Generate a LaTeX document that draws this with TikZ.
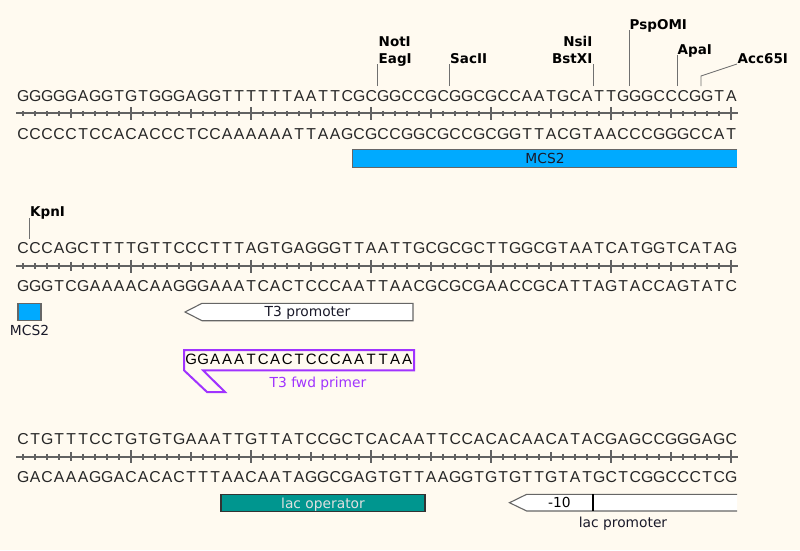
\documentclass[tikz,border=0pt]{standalone}
\usepackage{fontspec}
\newfontfamily\seqfont{Liberation Sans}
\newfontfamily\labfont{DejaVu Sans}
\makeatletter
\newcommand\pitched[1]{\@tfor\sq@c:=#1\do{\makebox[12pt]{\sq@c}}}
\makeatother
\definecolor{bgcol}{HTML}{FFFAF0}
\definecolor{seqgray}{HTML}{262626}
\definecolor{rulegray}{HTML}{626262}
\definecolor{leadgray}{HTML}{707070}
\definecolor{mcsblue}{HTML}{00AAFF}
\definecolor{teal}{HTML}{00968F}
\definecolor{primerpurple}{HTML}{A033FF}
\definecolor{featborder}{HTML}{666666}
\definecolor{labdark}{HTML}{1A1A2A}
\newcommand\rulerline[1]{%
  \draw[rulerstyle] (16,#1) -- (737.5,#1);
  \foreach \i in {1,...,60} {
    \pgfmathsetmacro\h{mod(\i,10)==0 ? 6.5 : (mod(\i,5)==0 ? 4.5 : 2.8)}
    \draw[rulerstyle, line width=1.7pt] ({11+12*\i},{#1-\h}) -- ({11+12*\i},{#1+\h});
  }}
\begin{document}
\begin{tikzpicture}[x=1pt,y=-1pt,
  seq/.style={font=\seqfont\fontsize{15.8}{18}\selectfont, text=seqgray, inner sep=0, anchor=base west},
  enz/.style={font=\labfont\bfseries\fontsize{13.5}{16}\selectfont, text=black, inner sep=0, anchor=base west},
  enzr/.style={enz, anchor=base east},
  lab/.style={font=\labfont\fontsize{13.8}{16}\selectfont, text=labdark, inner sep=0, anchor=base},
  leader/.style={draw=leadgray, line width=0.9pt},
  rulerstyle/.style={draw=rulegray, line width=2.2pt},
  featline/.style={draw=featborder, line width=1.1pt},
  primerline/.style={draw=primerpurple, line width=2pt, line join=miter}]
\fill[bgcol] (0,0) rectangle (800,550);
\useasboundingbox (0,0) rectangle (800,550);

% ---------------- block 1 ----------------
\rulerline{113.3}
\node[seq] (top1) at (17,101) {\pitched{GGGGGAGGTGTGGGAGGTTTTTTAATTCGCGGCCGCGGCGCCAATGCATTGGGCCCGGTA}};
\node[seq] (bot1) at (17,139.3) {\pitched{CCCCCTCCACACCCTCCAAAAAATTAAGCGCCGGCGCCGCGGTTACGTAACCCGGGCCAT}};

\node[enz] (NotI) at (378.5,46) {NotI};
\node[enz] (EagI) at (378.5,63) {EagI};
\coordinate (cNot) at (377,86); \coordinate (tNot) at (377,63.5);
\draw[leader] (cNot) -- (tNot);

\node[enz] (SacII) at (450,63) {SacII};
\coordinate (cSac) at (449,86); \coordinate (tSac) at (449,63.5);
\draw[leader] (cSac) -- (tSac);

\node[enzr] (NsiI) at (592.5,46) {NsiI};
\node[enzr] (BstXI) at (592.5,63) {BstXI};
\coordinate (cNsi) at (593,86); \coordinate (tNsi) at (593,63.5);
\draw[leader] (cNsi) -- (tNsi);

\node[enz] (PspOMI) at (629.5,29) {PspOMI};
\coordinate (cPsp) at (629,86); \coordinate (tPsp) at (629,30);
\draw[leader] (cPsp) -- (tPsp);

\node[enz] (ApaI) at (677.5,54) {ApaI};
\coordinate (cApa) at (677,86); \coordinate (tApa) at (677,55);
\draw[leader] (cApa) -- (tApa);

\node[enz] (Acc65I) at (737.5,63) {Acc65I};
\coordinate (cAcc) at (701,86); \coordinate (kAcc) at (701,76); \coordinate (tAcc) at (737,64);
\draw[leader] (cAcc) -- (kAcc) -- (tAcc);

\node[fill=mcsblue, inner sep=0, minimum width=384pt, minimum height=17pt,
      font=\labfont\fontsize{13.8}{16}\selectfont, text=labdark] (mcs1) at (545,158.5) {MCS2};
\draw[featline] (mcs1.north east) -- (mcs1.north west) -- (mcs1.south west) -- (mcs1.south east);

% ---------------- block 2 ----------------
\rulerline{266}
\node[seq] (top2) at (17,253.7) {\pitched{CCCAGCTTTTGTTCCCTTTAGTGAGGGTTAATTGCGCGCTTGGCGTAATCATGGTCATAG}};
\node[seq] (bot2) at (17,291.7) {\pitched{GGGTCGAAAACAAGGGAAATCACTCCCAATTAACGCGCGAACCGCATTAGTACCAGTATC}};

\node[enz] (KpnI) at (30,216.7) {KpnI};
\coordinate (cKpn) at (29,238.5); \coordinate (tKpn) at (29,217.5);
\draw[leader] (cKpn) -- (tKpn);

\node[fill=mcsblue, draw=featborder, line width=1.1pt, inner sep=0, minimum width=23pt, minimum height=17.4pt] (mcs2) at (29.5,312) {};
\node[lab] (mcs2lab) at (29.5,335.7) {MCS2};

\coordinate (t3tip) at (185,312);
\draw[featline, fill=white] (t3tip) -- (202,303.3) -- (413,303.3) -- (413,320.7) -- (202,320.7) -- cycle;
\node[lab] (t3lab) at (307.5,316.7) {T3 promoter};

\draw[primerline] (184,350) -- (414,350) -- (414,370.3) -- (203,370.3) -- (225,392) -- (207,392) -- (184,370.3) -- cycle;
\node[seq, text=black, font=\seqfont\fontsize{15}{18}\selectfont] (primer) at (185,364.3) {\pitched{GGAAATCACTCCCAATTAA}};
\node[lab, text=primerpurple] (primerlab) at (318,387.7) {T3 fwd primer};

% ---------------- block 3 ----------------
\rulerline{456.7}
\node[seq] (top3) at (17,444.3) {\pitched{CTGTTTCCTGTGTGAAATTGTTATCCGCTCACAATTCCACACAACATACGAGCCGGGAGC}};
\node[seq] (bot3) at (17,482.3) {\pitched{GACAAAGGACACACTTTAACAATAGGCGAGTGTTAAGGTGTGTTGTATGCTCGGCCCTCG}};

\node[fill=teal, draw=black!80, line width=1.1pt, inner sep=0, minimum width=204pt, minimum height=16.7pt] (lacop) at (323,502.7) {};
\node[lab, text=white!88!black] (lacoplab) at (323,508) {lac operator};

\coordinate (lactip) at (509.5,502.7);
\fill[white] (737,494.3) -- (526.7,494.3) -- (lactip) -- (526.7,511) -- (737,511) -- cycle;
\draw[featline] (737,494.3) -- (526.7,494.3) -- (lactip) -- (526.7,511) -- (737,511);
\coordinate (divt) at (593,494.3); \coordinate (divb) at (593,511);
\draw[black, line width=1.1pt] (divt) -- (divb);
\node[lab, text=black] (m10) at (559.5,507.7) {-10};
\node[lab] (laclab) at (623,527) {lac promoter};
\end{tikzpicture}
\end{document}
